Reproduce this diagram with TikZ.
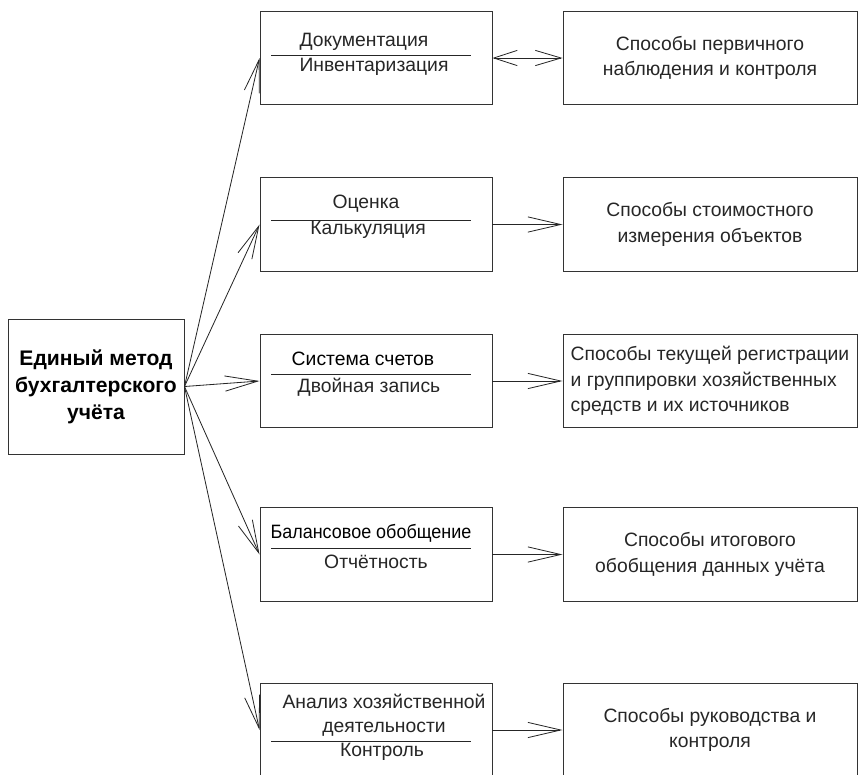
\documentclass[tikz,border=0pt]{standalone}
\usepackage{fontspec}
\setmainfont{Liberation Sans}
\usetikzlibrary{arrows.meta}

\begin{document}
\begin{tikzpicture}[x=0.03cm, y=-0.03cm,
        frame/.style={draw=black!80, line width=0.8pt, inner sep=0pt},
        mainbox/.style={frame, minimum width=5.28cm, minimum height=4.05cm, align=center,
            font=\fontsize{18}{23}\selectfont\bfseries},
        midbox/.style={frame, minimum width=6.96cm, minimum height=2.8cm},
        waybox/.style={frame, minimum width=8.82cm, minimum height=2.8cm, align=center,
            font=\fontsize{16.5}{22}\selectfont, text=black!85},
        midtext/.style={inner sep=0pt, align=center, font=\fontsize{16.5}{20.5}\selectfont, text=black!85},
        divider/.style={draw=black!85, line width=0.8pt},
        link/.style={draw=black!85, line width=0.7pt, -{Straight Barb[length=28pt, width=13pt]}},
        twoway/.style={draw=black!85, line width=0.7pt,
            {Straight Barb[length=20pt, width=13pt]}-{Straight Barb[length=22pt, width=13pt]}}]
        \pgfmathsetmacro{\midX}{376}
        \pgfmathsetmacro{\wayX}{710}
        \pgfmathsetmacro{\rowA}{58}
        \pgfmathsetmacro{\rowB}{224.5}
        \pgfmathsetmacro{\rowC}{381}
        \pgfmathsetmacro{\rowD}{554.5}
        \pgfmathsetmacro{\rowE}{730}

        \clip (0, 0) rectangle (858, 774);

        \node[mainbox] (method) at (96, 386.5) {Единый метод\\бухгалтерского\\учёта};

        \node[midbox] (doc) at (\midX, \rowA) {};
        \node[midbox] (cost) at (\midX, \rowB) {};
        \node[midbox] (acc) at (\midX, \rowC) {};
        \node[midbox] (bal) at (\midX, \rowD) {};
        \node[midbox] (anal) at (\midX, \rowE) {};

        \node[midtext] (docTop) at (364, 42) {Документация};
        \node[midtext] (docBot) at (374, 67) {Инвентаризация};
        \draw[divider] (271, 55) -- (471, 55);

        \node[midtext] (costTop) at (366, 204) {Оценка};
        \node[midtext] (costBot) at (368, 230) {Калькуляция};
        \draw[divider] (271, 220) -- (471, 220);

        \node[midtext, text=black] (accTop) at (363, 359) {Система счетов};
        \node[midtext] (accBot) at (369, 387) {Двойная запись};
        \draw[divider] (271, 374) -- (471, 374);

        \node[midtext, text=black] (balTop) at (371, 533)
            {\addfontfeature{FakeStretch=0.93}Балансовое обобщение};
        \node[midtext] (balBot) at (376, 562) {Отчётность};
        \draw[divider] (271, 548) -- (471, 548);

        \node[midtext] (analTop) at (384, 715) {Анализ хозяйственной\\деятельности};
        \node[midtext] (analBot) at (382, 752) {Контроль};
        \draw[divider] (271, 741) -- (471, 741);

        \node[waybox] (prim) at (\wayX, \rowA) {Способы первичного\\наблюдения и контроля};
        \node[waybox] (meas) at (\wayX, \rowB) {Способы стоимостного\\измерения объектов};
        \node[waybox, align=left] (reg) at (\wayX, \rowC)
            {Способы текущей регистрации\\и группировки хозяйственных\\средств и их источников};
        \node[waybox] (sum) at (\wayX, \rowD) {Способы итогового\\обобщения данных учёта};
        \node[waybox] (lead) at (\wayX, \rowE) {Способы руководства и\\контроля};

        \draw[link] (method.east) -- (doc.west);
        \draw[link] (method.east) -- (cost.west);
        \draw[link] (method.east) -- (acc.west);
        \draw[link] (method.east) -- (bal.west);
        \draw[link] (method.east) -- (anal.west);

        \draw[twoway] (doc.east) -- (prim.west);
        \draw[link] (cost.east) -- (meas.west);
        \draw[link] (acc.east) -- (reg.west);
        \draw[link] (bal.east) -- (sum.west);
        \draw[link] (anal.east) -- (lead.west);
    \end{tikzpicture}
\end{document}
